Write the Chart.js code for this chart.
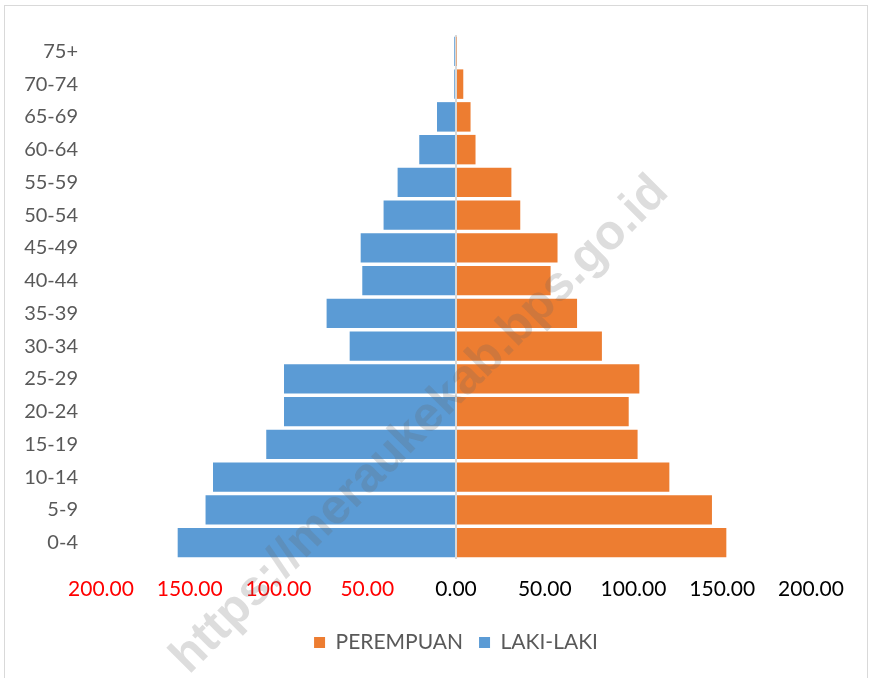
<!DOCTYPE html>
<html>
<head>
<meta charset="utf-8">
<script src="https://cdn.jsdelivr.net/npm/chart.js@4/dist/chart.umd.min.js"></script>
<style>
  html, body { margin: 0; padding: 0; background: #fff; }
  #wrap { position: relative; width: 874px; height: 678px; overflow: hidden; }
  #frame { position: absolute; left: 4px; top: 5px; width: 864px; height: 690px; border: 1px solid #d9d9d9; box-sizing: border-box; }
  canvas { position: absolute; left: 0; top: 0; }
</style>
</head>
<body>
<div id="wrap">
  <div id="frame"></div>
  <canvas id="pyramid" width="874" height="678"></canvas>
</div>
<script>
// Age groups, bottom to top
const ageGroups = ["0-4", "5-9", "10-14", "15-19", "20-24", "25-29", "30-34", "35-39",
                   "40-44", "45-49", "50-54", "55-59", "60-64", "65-69", "70-74", "75+"];

// Women (right side)
const perempuan = [152.3, 144.2, 120.2, 102.3, 97.3, 103.3, 82.2, 68.2,
                   53.3, 57.2, 36.2, 31.2, 11.0, 8.2, 4.1, 0.3];

// Men (left side, shown as negative)
const lakiLaki = [156.8, 141.1, 136.9, 106.9, 96.9, 96.9, 59.9, 72.9,
                  52.8, 53.7, 40.8, 32.9, 20.7, 10.7, 1.0, 1.0];

const xTicks = [-200, -150, -100, -50, 0, 50, 100, 150, 200];

const watermarkText = "https://meraukekab.bps.go.id";

// Watermark drawn over the chart
const watermark = {
    id: "watermark",
    afterDraw(chart) {
        const ctx = chart.ctx;
        ctx.save();
        ctx.translate(420, 425);
        ctx.rotate(-Math.PI / 4);
        ctx.font = "bold 49px 'Liberation Sans', Arial, sans-serif";
        ctx.fillStyle = "rgba(100,100,100,0.22)";
        ctx.textAlign = "center";
        ctx.textBaseline = "middle";
        ctx.fillText(watermarkText, 0, 0);
        ctx.restore();
    }
};

new Chart(document.getElementById("pyramid"), {
    type: "bar",
    data: {
        labels: ageGroups,
        datasets: [
            {
                label: "PEREMPUAN",
                data: perempuan,
                backgroundColor: "#ED7D31",
                barPercentage: 0.9,
                categoryPercentage: 1
            },
            {
                label: "LAKI-LAKI",
                data: lakiLaki.map(v => -v),
                backgroundColor: "#5B9BD5",
                barPercentage: 0.9,
                categoryPercentage: 1
            }
        ]
    },
    options: {
        indexAxis: "y",
        responsive: false,
        animation: false,
        devicePixelRatio: 1,
        layout: { padding: { left: 0, right: 63, top: 31, bottom: 15 } },
        scales: {
            x: {
                stacked: true,
                min: -200,
                max: 200,
                z: 1,
                afterBuildTicks: scale => { scale.ticks = xTicks.map(v => ({ value: v })); },
                afterFit: scale => { scale.height = 57; },
                border: { display: false },
                grid: {
                    drawTicks: false,
                    lineWidth: 2,
                    color: c => (c.tick && c.tick.value === 0) ? "#d9d9d9" : "rgba(0,0,0,0)"
                },
                ticks: {
                    padding: 18,
                    font: { family: "Lato", size: 21 },
                    color: c => c.tick.value < 0 ? "#ff0000" : "#000000",
                    callback: v => Math.abs(v).toFixed(2)
                }
            },
            y: {
                stacked: true,
                reverse: true,
                afterFit: scale => { scale.width = 101; },
                border: { display: false },
                grid: { display: false, drawTicks: false },
                ticks: {
                    padding: 23,
                    font: { family: "Lato", size: 20 },
                    color: "#595959"
                }
            }
        },
        plugins: {
            legend: {
                position: "bottom",
                fullSize: false,
                labels: {
                    boxWidth: 11,
                    boxHeight: 11,
                    padding: 16,
                    font: { family: "Lato", size: 21 },
                    color: "#595959"
                }
            },
            tooltip: { enabled: false }
        }
    },
    plugins: [watermark]
});
</script>
</body>
</html>
